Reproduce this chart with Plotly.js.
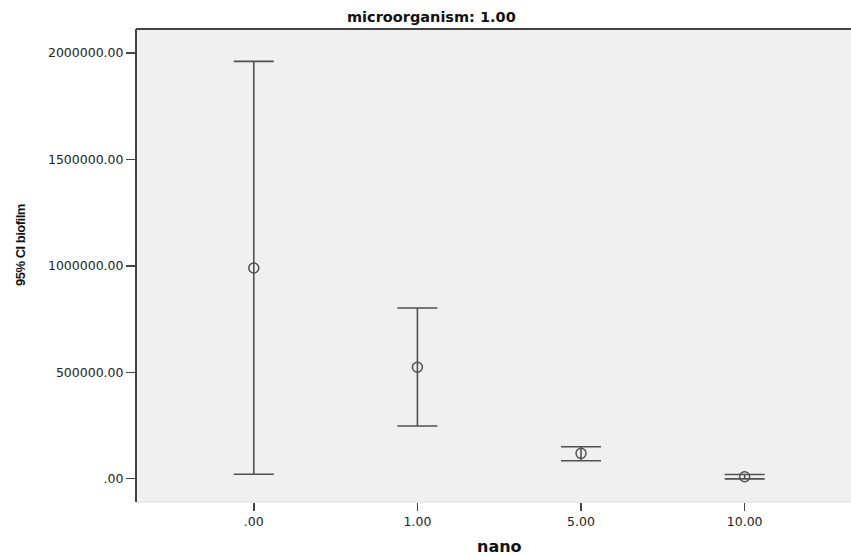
<!DOCTYPE html>
<html>
<head>
<meta charset="utf-8">
<script src="https://cdn.plot.ly/plotly-3.0.1.min.js"></script>
<style>
html,body{margin:0;padding:0;background:#fff;overflow:hidden}
#chart{width:851px;height:556px}
g.annotation[data-index="2"] text{letter-spacing:-0.5px}
</style>
</head>
<body>
<div id="chart"></div>
<script>
const categories = [".00", "1.00", "5.00", "10.00"];
const meanValues = [990000, 523500, 119000, 9000];
const lowerCI = [20700, 247700, 84600, -1000];
const upperCI = [1961000, 802000, 150400, 19500];
const yTickVals = [0, 500000, 1000000, 1500000, 2000000];
const yTickText = [".00", "500000.00", "1000000.00", "1500000.00", "2000000.00"];

const plus = upperCI.map((u, i) => u - meanValues[i]);
const minus = meanValues.map((m, i) => m - lowerCI[i]);
const lineCol = "#505050";

const trace = {
  type: "scatter",
  mode: "markers",
  x: categories,
  y: meanValues,
  marker: {symbol: "circle-open", size: 10, color: lineCol, line: {color: lineCol, width: 1.5}},
  error_y: {type: "data", symmetric: false, array: plus, arrayminus: minus,
            color: lineCol, thickness: 1.6, width: 20},
  hoverinfo: "skip",
  cliponaxis: false
};

const tickFont = {family: "DejaVu Sans, sans-serif", size: 12.5, color: "#222"};

const layout = {
  width: 851, height: 556,
  margin: {l: 136, r: 0, t: 29, b: 54},
  paper_bgcolor: "#ffffff",
  plot_bgcolor: "#f0f0f0",
  showlegend: false,
  font: {family: "DejaVu Sans, sans-serif", size: 12, color: "#222"},
  xaxis: {
    type: "category",
    range: [-0.72, 3.65],
    showgrid: false, zeroline: false,
    showline: false,
    ticks: "outside", ticklen: 8, tickcolor: "#444", tickwidth: 1.5,
    tickfont: tickFont,
    fixedrange: true
  },
  yaxis: {
    range: [-109500, 2113000],
    tickvals: yTickVals, ticktext: yTickText,
    showgrid: false, zeroline: false,
    showline: false,
    ticks: "outside", ticklen: 9, tickcolor: "#444", tickwidth: 1.5,
    tickfont: tickFont,
    fixedrange: true
  },
  shapes: [
    {type: "line", xref: "paper", yref: "paper", x0: 0, x1: 1, y0: 0, y1: 0,
     line: {color: "#dcdcdc", width: 1}},
    {type: "line", xref: "paper", yref: "paper", x0: 0, x1: 1, y0: 1, y1: 1,
     line: {color: "#444", width: 2}},
    {type: "line", xref: "paper", yref: "paper", x0: 0, x1: 0, y0: 0, y1: 1,
     line: {color: "#444", width: 2}}
  ],
  annotations: [
    {text: "<b>microorganism: 1.00</b>", xref: "paper", yref: "paper",
     x: (431 - 136) / 715, y: 1, yanchor: "middle", yshift: 12, showarrow: false,
     font: {family: "DejaVu Sans, sans-serif", size: 14.5, color: "#111"}},
    {text: "<b>nano</b>", xref: "paper", yref: "paper",
     x: (499.5 - 136) / 715, y: 0, yanchor: "middle", yshift: -44, showarrow: false,
     font: {family: "DejaVu Sans, sans-serif", size: 16, color: "#111"}},
    {text: "<b>95% CI biofilm</b>", xref: "paper", yref: "paper",
     x: 0, xanchor: "center", xshift: -116, y: 0.5, yanchor: "middle", yshift: 20,
     textangle: -90, showarrow: false,
     font: {family: "Liberation Sans, Arial, sans-serif", size: 13, color: "#111"}}
  ]
};

Plotly.newPlot("chart", [trace], layout, {displayModeBar: false, staticPlot: true});
</script>
</body>
</html>
